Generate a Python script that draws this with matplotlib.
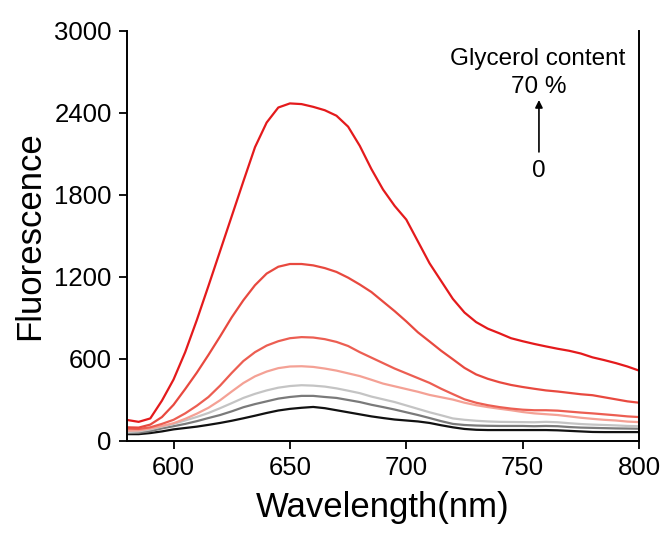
import matplotlib
matplotlib.use("Agg")
import matplotlib.pyplot as plt

plt.rcParams['font.family'] = ['Liberation Sans', 'DejaVu Sans']

# Emission wavelength grid (nm)
wavelength = list(range(580, 805, 5))

# Fluorescence spectra at increasing glycerol content (lowest -> highest)
fl_0 = [50, 50, 58, 70, 85, 95, 105, 118, 132, 148, 166, 185, 205, 223, 235,
        243, 249, 240, 225, 210, 195, 180, 168, 157, 150, 143, 132, 115, 100,
        88, 82, 80, 80, 80, 80, 80, 80, 78, 74, 70, 66, 65, 65, 65, 65]
fl_1 = [58, 60, 72, 92, 108, 125, 145, 168, 190, 217, 247, 270, 290, 310, 322,
        330, 330, 322, 315, 300, 285, 265, 248, 230, 210, 190, 168, 145, 125,
        117, 113, 111, 110, 110, 110, 108, 110, 108, 102, 98, 96, 94, 92, 91, 90]
fl_2 = [65, 70, 85, 105, 125, 150, 176, 205, 240, 277, 315, 345, 370, 390, 402,
        408, 405, 398, 385, 368, 350, 325, 305, 285, 260, 235, 210, 188, 165,
        155, 148, 143, 140, 139, 138, 137, 140, 137, 130, 124, 120, 117, 114,
        110, 108]
fl_3 = [75, 78, 92, 110, 130, 162, 200, 243, 298, 362, 424, 473, 508, 533, 545,
        547, 542, 530, 515, 495, 475, 448, 420, 400, 380, 360, 337, 320, 303,
        280, 262, 248, 236, 225, 212, 202, 196, 190, 180, 170, 162, 155, 150,
        142, 138]
fl_4 = [90, 88, 100, 125, 155, 202, 258, 322, 405, 498, 585, 650, 698, 730, 752,
        760, 757, 745, 725, 695, 650, 610, 570, 530, 495, 460, 425, 382, 343,
        305, 280, 262, 248, 237, 229, 225, 225, 222, 215, 208, 202, 195, 188,
        180, 175]
fl_5 = [100, 98, 120, 175, 265, 380, 500, 630, 765, 905, 1030, 1140, 1225, 1275,
        1295, 1295, 1285, 1265, 1237, 1195, 1145, 1090, 1020, 950, 875, 795, 728,
        660, 598, 535, 487, 455, 430, 410, 395, 382, 370, 362, 352, 342, 335,
        320, 305, 290, 280]
fl_6 = [154, 140, 165, 295, 450, 650, 885, 1135, 1390, 1645, 1900, 2150, 2330,
        2440, 2470, 2465, 2445, 2420, 2380, 2300, 2160, 1990, 1840, 1720, 1620,
        1460, 1300, 1170, 1040, 940, 870, 822, 788, 752, 730, 710, 692, 675,
        660, 640, 612, 592, 570, 545, 515]

series = [fl_0, fl_1, fl_2, fl_3, fl_4, fl_5, fl_6]
colors = ['#111111', '#7a7a7a', '#c4c4c4', '#f4a195', '#ec5e52', '#e8493f',
          '#e41a1c']

x_ticks = [600, 650, 700, 750, 800]
y_ticks = [0, 600, 1200, 1800, 2400, 3000]

fig = plt.figure(figsize=(6.66, 5.37), dpi=100)
ax = fig.add_axes([0.1907, 0.1788, 0.7688, 0.7635])

for values, col in zip(series, colors):
    ax.plot(wavelength, values, color=col, lw=1.6, solid_joinstyle='round')

ax.set_xlim(580, 800)
ax.set_ylim(0, 3000)
ax.set_xticks(x_ticks)
ax.set_yticks(y_ticks)
ax.tick_params(direction='out', length=6, width=1.3, labelsize=18.5, pad=5)
for side in ['left', 'bottom', 'right']:
    ax.spines[side].set_linewidth(1.4)
ax.spines['top'].set_visible(False)

ax.set_xlabel('Wavelength(nm)', fontsize=25, labelpad=8)
ax.set_ylabel('Fluorescence', fontsize=25, labelpad=6)

# Glycerol content indicator
ax.text(756.5, 2795, 'Glycerol content', ha='center', va='center', fontsize=17.5)
ax.text(757, 2590, '70 %', ha='center', va='center', fontsize=17.5)
ax.annotate('', xy=(757, 2495), xytext=(757, 2115),
            arrowprops=dict(arrowstyle='-|>', color='black', lw=1.2,
                            mutation_scale=11, shrinkA=0, shrinkB=0))
ax.text(757, 1975, '0', ha='center', va='center', fontsize=17.5)

fig.savefig('out.png', dpi=100)
